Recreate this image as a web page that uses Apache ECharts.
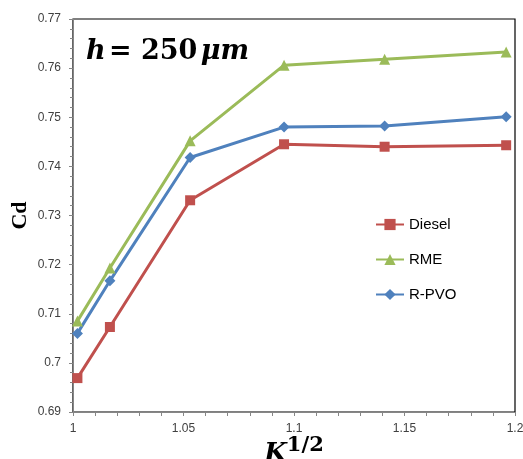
<!DOCTYPE html>
<html>
<head>
<meta charset="utf-8">
<script src="https://cdn.jsdelivr.net/npm/echarts@6/dist/echarts.min.js"></script>
<style>html,body{margin:0;padding:0;background:#fff;}#c{width:523px;height:459px;}</style>
</head>
<body>
<div id="c"></div>
<script>
var kValues = [1.002, 1.0167, 1.053, 1.0955, 1.141, 1.196];
var diesel = [0.6969, 0.7073, 0.7331, 0.7445, 0.7440, 0.7443];
var rme = [0.7085, 0.7193, 0.7452, 0.7606, 0.7618, 0.7633];
var rpvo = [0.7060, 0.7167, 0.7418, 0.7480, 0.7482, 0.7501];
var seriesNames = ['Diesel', 'RME', 'R-PVO'];

function pairs(ys) { return kValues.map(function (x, i) { return [x, ys[i]]; }); }
function trim(v) { return String(parseFloat(v.toFixed(3))); }

var chart = echarts.init(document.getElementById('c'));
chart.setOption({
  animation: false,
  backgroundColor: '#fff',
  grid: { left: 73, right: 8, top: 19, bottom: 47, show: true, borderColor: '#000', borderWidth: 1.2,
          containLabel: false, outerBoundsMode: 'none' },
  legend: {
    orient: 'vertical', left: 375, top: 217, padding: 0, itemWidth: 28, itemHeight: 14, itemGap: 20,
    textStyle: { fontFamily: 'Liberation Sans', fontSize: 15, color: '#000' },
    data: seriesNames
  },
  graphic: [{
    type: 'text', left: 86, top: 38,
    style: {
      text: '{i|h} {n|= 250} {i|μm}',
      rich: {
        i: { fontFamily: 'DejaVu Serif', fontWeight: 'bold', fontStyle: 'italic', fontSize: 27, fill: '#000' },
        n: { fontFamily: 'DejaVu Serif', fontWeight: 'bold', fontSize: 27, fill: '#000' }
      }
    }
  }],
  xAxis: {
    type: 'value', min: 1, max: 1.2, interval: 0.05,
    name: '{k|K}{s|1/2}', nameLocation: 'middle', nameGap: 23, nameMoveOverlap: false,
    nameTextStyle: {
      rich: {
        k: { fontFamily: 'DejaVu Serif', fontWeight: 'bold', fontStyle: 'italic', fontSize: 26, color: '#000', verticalAlign: 'bottom', lineHeight: 32 },
        s: { fontFamily: 'DejaVu Serif', fontWeight: 'bold', fontSize: 21, color: '#000', verticalAlign: 'top', lineHeight: 32, padding: [0, 0, 16, 0] }
      }
    },
    axisLine: { show: true, lineStyle: { color: '#868686', width: 1 } },
    axisTick: { show: true, length: 4, lineStyle: { color: '#868686' } },
    minorTick: { show: true, splitNumber: 5, length: 4, lineStyle: { color: '#868686' } },
    splitLine: { show: false },
    axisLabel: { formatter: trim, fontFamily: 'Liberation Sans', fontSize: 12, color: '#404040', margin: 11 }
  },
  yAxis: {
    type: 'value', min: 0.69, max: 0.77, interval: 0.01,
    name: 'Cd', nameLocation: 'middle', nameGap: 42, nameRotate: 90, nameMoveOverlap: false,
    nameTextStyle: { fontFamily: 'Liberation Serif', fontWeight: 'bold', fontSize: 22, color: '#000' },
    axisLine: { show: true, lineStyle: { color: '#868686', width: 1 } },
    axisTick: { show: true, length: 4, lineStyle: { color: '#868686' } },
    minorTick: { show: true, splitNumber: 5, length: 3, lineStyle: { color: '#868686' } },
    splitLine: { show: false },
    axisLabel: { formatter: trim, fontFamily: 'Liberation Sans', fontSize: 12, color: '#404040', margin: 12 }
  },
  series: [
    { name: seriesNames[0], type: 'line', data: pairs(diesel), symbol: 'rect', symbolSize: 10,
      lineStyle: { width: 3, color: '#C0504D' }, itemStyle: { color: '#C0504D' } },
    { name: seriesNames[1], type: 'line', data: pairs(rme), symbol: 'triangle', symbolSize: 11,
      lineStyle: { width: 3, color: '#9BBB59' }, itemStyle: { color: '#9BBB59' } },
    { name: seriesNames[2], type: 'line', data: pairs(rpvo), symbol: 'diamond', symbolSize: 11,
      lineStyle: { width: 3, color: '#4F81BD' }, itemStyle: { color: '#4F81BD' } }
  ]
});
</script>
</body>
</html>
